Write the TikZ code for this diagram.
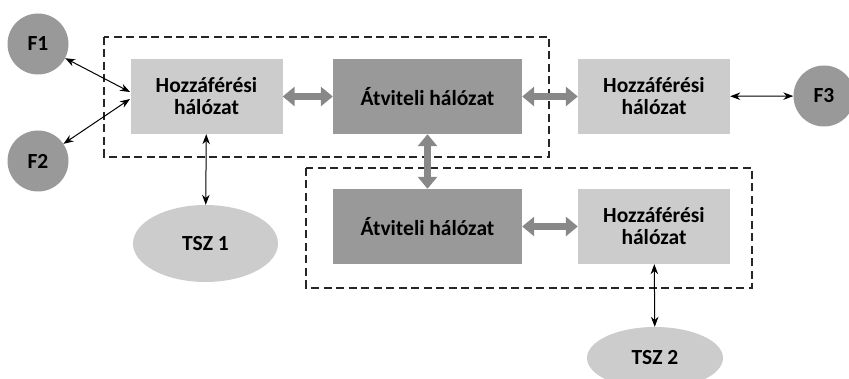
\documentclass[tikz,border=0pt]{standalone}
\usepackage{fontspec}
\setmainfont{Carlito}
\usetikzlibrary{arrows.meta,shapes.geometric}
\definecolor{lightg}{HTML}{CCCCCC}
\definecolor{darkg}{HTML}{999999}
\definecolor{arrowg}{HTML}{888888}
\begin{document}
\begin{tikzpicture}[x=1pt,y=-1pt,
  txt/.style={font=\bfseries\fontsize{21.5}{22}\selectfont, text=black, align=center},
  accbox/.style={txt, fill=lightg, minimum width=152pt, minimum height=75pt, inner sep=0pt},
  trbox/.style={txt, fill=darkg, minimum width=189pt, minimum height=75pt, inner sep=0pt},
  term/.style={txt, circle, fill=darkg, minimum size=61pt, inner sep=0pt},
  srv/.style={txt, ellipse, fill=lightg, inner sep=0pt},
  grp/.style={draw=black!85, dash pattern=on 8pt off 4.5pt, line width=1.1pt},
  thick link/.style={arrowg, line width=7pt, {Triangle[length=12pt,width=19pt]}-{Triangle[length=12pt,width=19pt]}},
  thin link/.style={black, line width=1pt, {Stealth[length=10pt,width=7.5pt]}-{Stealth[length=10pt,width=7.5pt]}}
]
\useasboundingbox (0,0) rectangle (849,379);
% groups
\draw[grp] (104,37) rectangle (549,157);
\draw[grp] (306,168) rectangle (752,288);
% nodes
\node[accbox] (h1) at (206.5,96.5) {Hozzáférési\\hálózat};
\node[trbox] (a1) at (427.5,96.5) {Átviteli hálózat};
\node[accbox] (h2) at (654,96.5) {Hozzáférési\\hálózat};
\node[trbox] (a2) at (427.5,226.5) {Átviteli hálózat};
\node[accbox] (h3) at (654,226.5) {Hozzáférési\\hálózat};
\node[term] (f1) at (38,44) {F1};
\node[term] (f2) at (38,161) {F2};
\node[term] (f3) at (824,96) {F3};
\node[srv, minimum width=145pt, minimum height=77pt] (t1) at (205.5,243.5) {TSZ 1};
\node[srv, minimum width=136pt, minimum height=62pt] (t2) at (655,358) {TSZ 2};
\coordinate (h1a) at (130,92);
\coordinate (h1b) at (130,99);
% connectors
\draw[thick link] (h1) -- (a1);
\draw[thick link] (a1) -- (h2);
\draw[thick link] (a1) -- (a2);
\draw[thick link] (a2) -- (h3);
\draw[thin link] (f1) -- (h1a);
\draw[thin link] (f2) -- (h1b);
\draw[thin link] (h2) -- (f3);
\draw[thin link] (h1) -- (t1);
\draw[thin link] (h3) -- (t2);
\end{tikzpicture}
\end{document}
